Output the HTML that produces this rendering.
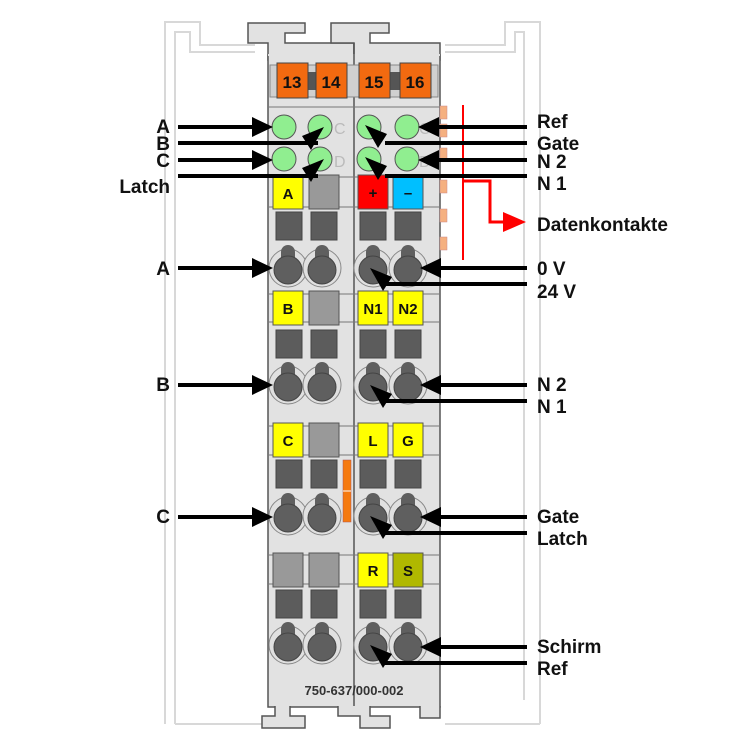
<!DOCTYPE html>
<html><head><meta charset="utf-8"><style>
html,body{margin:0;padding:0;background:#fff}
svg{display:block}
text{font-family:"Liberation Sans",sans-serif;font-weight:bold}
</style></head><body>
<svg width="750" height="750" viewBox="0 0 750 750" xmlns="http://www.w3.org/2000/svg">
<defs>
<g id="term">
  <circle cx="0" cy="0" r="19" fill="#e0e0e0" stroke="#888" stroke-width="1"/>
  <circle cx="0" cy="-16" r="7" fill="#5f5f5f"/>
  <rect x="-7" y="-16" width="14" height="10" fill="#5f5f5f"/>
  <circle cx="0" cy="2" r="14" fill="#5f5f5f" stroke="#444" stroke-width="1"/>
</g>
<g id="dk"><rect x="0" y="0" width="26" height="28" fill="#5c5c5c" stroke="#444" stroke-width="1"/></g>
</defs>
<!-- background rails -->
<g fill="none" stroke="#d8d8d8" stroke-width="2">
  <path d="M165 724 V22 H200 V45 H255"/>
  <path d="M175 724 V32 H190 V52 H255"/>
  <path d="M540 724 V22 H505 V45 H445"/>
  <path d="M524 700 V32 H515 V52 H445"/>
  <path d="M175 724 H262"/><path d="M445 724 H540"/>
</g>
<!-- top tabs -->
<path d="M268 60 V43 H248 V23 H305 V33 H285 V43 H354 V60 Z" fill="#e2e2e2" stroke="#555" stroke-width="1.5"/>
<path d="M354 60 V43 H331 V23 H389 V33 H370 V43 H440 V60 Z" fill="#e2e2e2" stroke="#555" stroke-width="1.5"/>
<!-- module body -->
<rect x="268" y="55" width="172" height="652" fill="#e2e2e2" stroke="#555" stroke-width="1.5"/>
<line x1="268" y1="55" x2="440" y2="55" stroke="#e2e2e2" stroke-width="2"/>
<line x1="354" y1="43" x2="354" y2="707" stroke="#555" stroke-width="1.5"/>
<!-- bottom tabs -->
<path d="M275 706 V716 H262 V728 H305 V716 H290 V706" fill="#e2e2e2" stroke="#555" stroke-width="1.5"/>
<path d="M338 706 V716 H360 V728 H390 V716 H370 V706" fill="#e2e2e2" stroke="#555" stroke-width="1.5"/>
<path d="M420 706 V718 H440 V706" fill="#e2e2e2" stroke="#555" stroke-width="1.5"/>
<!-- horizontal row lines -->
<g stroke="#777" stroke-width="1">
<line x1="268" y1="107" x2="440" y2="107"/>
<line x1="268" y1="177" x2="440" y2="177"/><line x1="268" y1="207" x2="440" y2="207"/>
<line x1="268" y1="294" x2="440" y2="294"/><line x1="268" y1="322" x2="440" y2="322"/>
<line x1="268" y1="426" x2="440" y2="426"/><line x1="268" y1="455" x2="440" y2="455"/>
<line x1="268" y1="555" x2="440" y2="555"/><line x1="268" y1="584" x2="440" y2="584"/>
</g>
<!-- number row -->
<rect x="270" y="65" width="168" height="32" fill="#d0d0d0" stroke="#888"/>
<rect x="300" y="72" width="20" height="18" fill="#555"/><rect x="385" y="72" width="20" height="18" fill="#555"/>
<g fill="#f26a10" stroke="#444" stroke-width="1">
<rect x="277" y="63" width="31" height="35"/><rect x="316" y="63" width="31" height="35"/>
<rect x="359" y="63" width="31" height="35"/><rect x="400" y="63" width="31" height="35"/>
</g>
<g font-size="17" text-anchor="middle" fill="#111">
<text x="292" y="88">13</text><text x="331" y="88">14</text><text x="374" y="88">15</text><text x="415" y="88">16</text>
</g>
<!-- LEDs -->
<g font-size="16" fill="#bbb">
<text x="334" y="134" style="font-weight:normal">C</text><text x="334" y="167" style="font-weight:normal">D</text>
<text x="419" y="134" style="font-weight:normal">C</text><text x="419" y="167" style="font-weight:normal">D</text>
</g>
<g fill="#90ee90" stroke="#555" stroke-width="1">
<circle cx="284" cy="127" r="12"/><circle cx="320" cy="127" r="12"/><circle cx="369" cy="127" r="12"/><circle cx="407" cy="127" r="12"/>
<circle cx="284" cy="159" r="12"/><circle cx="320" cy="159" r="12"/><circle cx="369" cy="159" r="12"/><circle cx="407" cy="159" r="12"/>
</g>
<!-- orange side tabs -->
<g fill="#f5b080" stroke="#c88" stroke-width="0.5">
<rect x="440" y="106" width="7" height="13"/><rect x="440" y="124" width="7" height="13"/><rect x="440" y="148" width="7" height="13"/>
<rect x="440" y="180" width="7" height="13"/><rect x="440" y="209" width="7" height="13"/><rect x="440" y="237" width="7" height="13"/>
</g>
<!-- label boxes -->
<g stroke="#555" stroke-width="1">
<rect x="273" y="177" width="30" height="32" fill="#ffff00"/><rect x="309" y="175" width="30" height="34" fill="#999"/>
<rect x="358" y="175" width="30" height="34" fill="#ff0000"/><rect x="393" y="177" width="30" height="32" fill="#00bfff"/>
<rect x="273" y="291" width="30" height="34" fill="#ffff00"/><rect x="309" y="291" width="30" height="34" fill="#999"/>
<rect x="358" y="291" width="30" height="34" fill="#ffff00"/><rect x="393" y="291" width="30" height="34" fill="#ffff00"/>
<rect x="273" y="423" width="30" height="34" fill="#ffff00"/><rect x="309" y="423" width="30" height="34" fill="#999"/>
<rect x="358" y="423" width="30" height="34" fill="#ffff00"/><rect x="393" y="423" width="30" height="34" fill="#ffff00"/>
<rect x="273" y="553" width="30" height="34" fill="#999"/><rect x="309" y="553" width="30" height="34" fill="#999"/>
<rect x="358" y="553" width="30" height="34" fill="#ffff00"/><rect x="393" y="553" width="30" height="34" fill="#b0b800"/>
</g>
<g font-size="15" text-anchor="middle" fill="#111">
<text x="288" y="199">A</text><text x="373" y="198">+</text><text x="408" y="198">–</text>
<text x="288" y="314">B</text><text x="373" y="314">N1</text><text x="408" y="314">N2</text>
<text x="288" y="446">C</text><text x="373" y="446">L</text><text x="408" y="446">G</text>
<text x="373" y="576">R</text><text x="408" y="576">S</text>
</g>
<!-- dark squares -->
<use href="#dk" x="276" y="212"/><use href="#dk" x="311" y="212"/><use href="#dk" x="360" y="212"/><use href="#dk" x="395" y="212"/>
<use href="#dk" x="276" y="330"/><use href="#dk" x="311" y="330"/><use href="#dk" x="360" y="330"/><use href="#dk" x="395" y="330"/>
<use href="#dk" x="276" y="460"/><use href="#dk" x="311" y="460"/><use href="#dk" x="360" y="460"/><use href="#dk" x="395" y="460"/>
<use href="#dk" x="276" y="590"/><use href="#dk" x="311" y="590"/><use href="#dk" x="360" y="590"/><use href="#dk" x="395" y="590"/>
<!-- orange strip -->
<rect x="343" y="460" width="8" height="62" fill="#f57a10" stroke="#a55" stroke-width="0.5"/>
<line x1="343" y1="491" x2="351" y2="491" stroke="#fff" stroke-width="1"/>
<!-- terminals -->
<g>
<use href="#term" x="288" y="268"/><use href="#term" x="322" y="268"/><use href="#term" x="373" y="268"/><use href="#term" x="408" y="268"/>
<use href="#term" x="288" y="385"/><use href="#term" x="322" y="385"/><use href="#term" x="373" y="385"/><use href="#term" x="408" y="385"/>
<use href="#term" x="288" y="516"/><use href="#term" x="322" y="516"/><use href="#term" x="373" y="516"/><use href="#term" x="408" y="516"/>
<use href="#term" x="288" y="645"/><use href="#term" x="322" y="645"/><use href="#term" x="373" y="645"/><use href="#term" x="408" y="645"/>
</g>
<text x="354" y="695" font-size="13" text-anchor="middle" fill="#333">750-637/000-002</text>
<!-- red data contacts -->
<line x1="463" y1="105" x2="463" y2="260" stroke="#f00" stroke-width="2"/>
<path d="M463 181 H490 V222 H505" fill="none" stroke="#f00" stroke-width="3"/>
<polygon points="503,212 526,222 503,232" fill="#f00"/>
<!-- arrows -->
<g stroke="#000" stroke-width="4" fill="none">
<line x1="178" y1="127" x2="255" y2="127"/>
<line x1="178" y1="143" x2="318" y2="143"/>
<line x1="178" y1="160" x2="255" y2="160"/>
<line x1="178" y1="176" x2="318" y2="176"/>
<line x1="178" y1="268" x2="255" y2="268"/>
<line x1="178" y1="385" x2="255" y2="385"/>
<line x1="178" y1="517" x2="255" y2="517"/>
<line x1="527" y1="127" x2="436" y2="127"/>
<line x1="527" y1="143" x2="385" y2="143"/>
<line x1="527" y1="160" x2="436" y2="160"/>
<line x1="527" y1="176" x2="385" y2="176"/>
<line x1="527" y1="268" x2="438" y2="268"/>
<line x1="527" y1="284" x2="385" y2="284"/>
<line x1="527" y1="385" x2="438" y2="385"/>
<line x1="527" y1="401" x2="385" y2="401"/>
<line x1="527" y1="517" x2="438" y2="517"/>
<line x1="527" y1="533" x2="385" y2="533"/>
<line x1="527" y1="647" x2="438" y2="647"/>
<line x1="527" y1="663" x2="385" y2="663"/>
</g>
<g fill="#000">
<polygon points="252,117 273,127 252,137"/>
<polygon points="252,150 273,160 252,170"/>
<polygon points="252,258 273,268 252,278"/>
<polygon points="252,375 273,385 252,395"/>
<polygon points="252,507 273,517 252,527"/>
<polygon points="439,117 418,127 439,137"/>
<polygon points="439,150 418,160 439,170"/>
<polygon points="441,258 420,268 441,278"/>
<polygon points="441,375 420,385 441,395"/>
<polygon points="441,507 420,517 441,527"/>
<polygon points="441,637 420,647 441,657"/>
<polygon points="324,127 311,150 302,136"/>
<polygon points="324,159 311,182 302,168"/>
<polygon points="365,125 378,148 387,134"/>
<polygon points="365,157 378,180 387,166"/>
<polygon points="370,268 383,291 392,277"/>
<polygon points="370,385 383,408 392,394"/>
<polygon points="370,516 383,539 392,525"/>
<polygon points="370,645 383,668 392,654"/>
</g>
<!-- labels -->
<g font-size="19" fill="#111">
<text x="170" y="133" text-anchor="end">A</text>
<text x="170" y="150" text-anchor="end">B</text>
<text x="170" y="167" text-anchor="end">C</text>
<text x="170" y="193" text-anchor="end">Latch</text>
<text x="170" y="275" text-anchor="end">A</text>
<text x="170" y="391" text-anchor="end">B</text>
<text x="170" y="523" text-anchor="end">C</text>
<text x="537" y="128">Ref</text>
<text x="537" y="150">Gate</text>
<text x="537" y="168">N 2</text>
<text x="537" y="190">N 1</text>
<text x="537" y="231">Datenkontakte</text>
<text x="537" y="275">0 V</text>
<text x="537" y="298">24 V</text>
<text x="537" y="391">N 2</text>
<text x="537" y="413">N 1</text>
<text x="537" y="523">Gate</text>
<text x="537" y="545">Latch</text>
<text x="537" y="653">Schirm</text>
<text x="537" y="675">Ref</text>
</g>
</svg>
</body></html>
